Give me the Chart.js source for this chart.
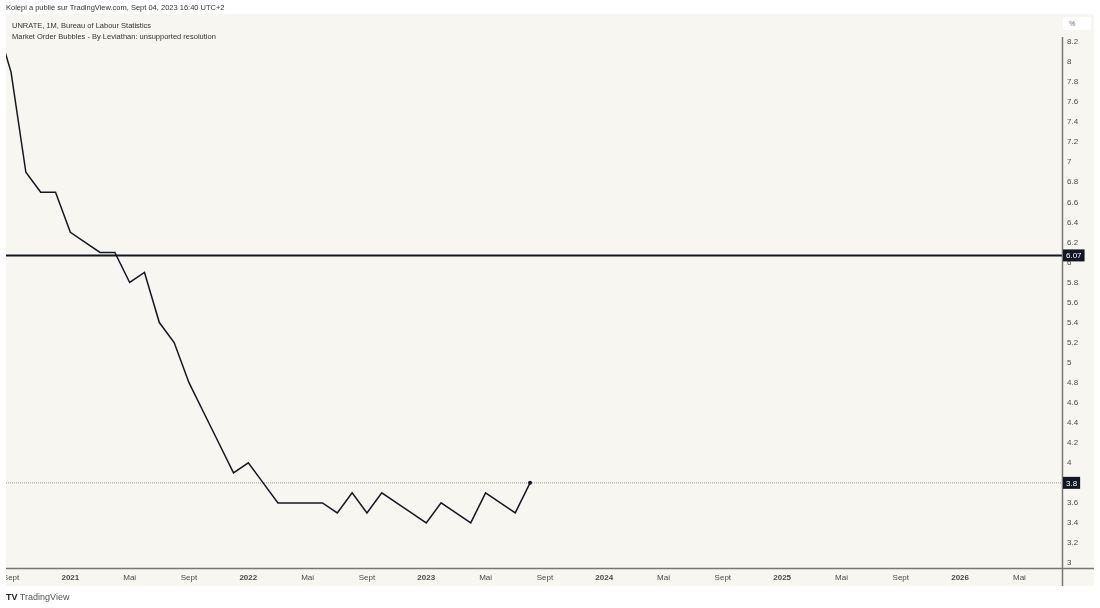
<!DOCTYPE html>
<html>
<head>
<meta charset="utf-8">
<script src="https://cdn.jsdelivr.net/npm/chart.js@4.4.0/dist/chart.umd.min.js"></script>
<style>
  body { margin: 0; background: #fff; font-family: "Liberation Sans", Arial, sans-serif; }
  #wrap { position: absolute; left: 0; top: 0; width: 1100px; height: 608px; }
  .txt { position: absolute; white-space: nowrap; color: #333; font-size: 7.5px; }
  #pct { position: absolute; left: 1063px; top: 17px; width: 28px; height: 13px; background: #fff;
         border-radius: 2px; font-size: 7px; color: #666; line-height: 13px; text-indent: 6px; }
</style>
</head>
<body>
<div id="wrap"><canvas id="myChart"></canvas></div>
<div class="txt" style="left:6px; top:3px;">Kolepi a publié sur TradingView.com, Sept 04, 2023 16:40 UTC+2</div>
<div class="txt" style="left:12px; top:21px;">UNRATE, 1M, Bureau of Labour Statistics</div>
<div class="txt" style="left:12px; top:32px;">Market Order Bubbles - By Leviathan: unsupported resolution</div>
<div id="pct">%</div>
<div class="txt" style="left:6px; top:592px; font-size:9px; color:#555;"><b style="color:#222;">TV</b> TradingView</div>
<script>
// monthly unemployment rate, Aug 2020 .. Aug 2023 (month index 0 = Sept 2020)
var firstIndex = -1;
var unrate = [8.4, 7.9, 6.9, 6.7, 6.7,
  6.3, 6.2, 6.1, 6.1, 5.8, 5.9, 5.4, 5.2, 4.8, 4.5, 4.2, 3.9,
  4.0, 3.8, 3.6, 3.6, 3.6, 3.6, 3.5, 3.7, 3.5, 3.7, 3.6, 3.5,
  3.4, 3.6, 3.5, 3.4, 3.7, 3.6, 3.5, 3.8];
var levelLine = 6.07;
var xTickLabels = ['Sept', '2021', 'Mai', 'Sept', '2022', 'Mai', 'Sept', '2023', 'Mai', 'Sept',
  '2024', 'Mai', 'Sept', '2025', 'Mai', 'Sept', '2026', 'Mai'];
var yTicks = [3, 3.2, 3.4, 3.6, 3.8, 4, 4.2, 4.4, 4.6, 4.8, 5, 5.2, 5.4, 5.6, 5.8, 6,
  6.2, 6.4, 6.6, 6.8, 7, 7.2, 7.4, 7.6, 7.8, 8, 8.2];

var xMin = -0.34, xMax = 70.87;
var lastValue = unrate[unrate.length - 1];
var seriesPts = unrate.map(function (v, i) { return { x: firstIndex + i, y: v }; });

var frame = {
  id: 'frame',
  beforeDraw: function (chart) {
    var c = chart.ctx;
    c.save();
    c.fillStyle = '#f7f6f1';
    c.fillRect(6, 14, 1088, 572);
    c.restore();
  },
  afterDraw: function (chart) {
    var c = chart.ctx, a = chart.chartArea, y = chart.scales.y;
    c.save();
    c.fillStyle = '#fff';
    c.fillRect(0, a.bottom, 6, 30);
    c.strokeStyle = '#777';
    c.lineWidth = 1.5;
    c.beginPath();
    c.moveTo(6, a.bottom + 0.5); c.lineTo(1094, a.bottom + 0.5);
    c.moveTo(a.right + 0.5, 37); c.lineTo(a.right + 0.5, 586);
    c.stroke();
    c.font = '8px "Liberation Sans", Arial, sans-serif';
    c.textBaseline = 'middle';
    [[levelLine, '6.07'], [lastValue, '3.8']].forEach(function (p) {
      var py = y.getPixelForValue(p[0]);
      var w = c.measureText(p[1]).width + 6;
      c.fillStyle = '#131722';
      c.fillRect(a.right + 1, py - 6, w, 12);
      c.fillStyle = '#fff';
      c.fillText(p[1], a.right + 4, py + 0.5);
    });
    c.restore();
  }
};

new Chart(document.getElementById('myChart'), {
  type: 'line',
  data: {
    datasets: [
      {
        data: seriesPts,
        borderColor: '#131722',
        borderWidth: 1.5,
        pointRadius: function (ctx) { return ctx.dataIndex === unrate.length - 1 ? 2 : 0; },
        pointBackgroundColor: '#131722',
        pointBorderWidth: 0,
        tension: 0
      },
      {
        data: [{ x: xMin, y: levelLine }, { x: xMax, y: levelLine }],
        borderColor: '#131722',
        borderWidth: 2,
        pointRadius: 0
      },
      {
        data: [{ x: xMin, y: lastValue }, { x: xMax, y: lastValue }],
        borderColor: '#9a9a9a',
        borderWidth: 1,
        borderDash: [1, 1],
        pointRadius: 0
      }
    ]
  },
  options: {
    responsive: true,
    maintainAspectRatio: false,
    animation: false,
    layout: { padding: { left: 6, right: 6, top: 35, bottom: 22 } },
    plugins: { legend: { display: false }, tooltip: { enabled: false } },
    scales: {
      x: {
        type: 'linear',
        min: xMin,
        max: xMax,
        grid: { display: false, drawTicks: false },
        border: { display: false },
        afterBuildTicks: function (s) {
          s.ticks = xTickLabels.map(function (l, i) { return { value: i * 4 }; });
        },
        afterFit: function (s) { s.height = 18; s.paddingLeft = 0; s.paddingRight = 0; },
        ticks: {
          autoSkip: false,
          maxRotation: 0,
          padding: 5,
          color: '#4a4a4a',
          font: function (ctx) {
            var l = ctx.tick ? xTickLabels[Math.round(ctx.tick.value / 4)] : '';
            return { size: 8, family: '"Liberation Sans", Arial, sans-serif', weight: /^\d/.test(l) ? 'bold' : 'normal' };
          },
          callback: function (v) { return xTickLabels[Math.round(v / 4)]; }
        }
      },
      y: {
        position: 'right',
        min: 2.95,
        max: 8.27,
        grid: { display: false, drawTicks: false },
        border: { display: false },
        afterBuildTicks: function (s) {
          s.ticks = yTicks.map(function (v) { return { value: v }; });
        },
        afterFit: function (s) { s.width = 32; s.paddingTop = 0; s.paddingBottom = 0; },
        ticks: {
          padding: 5,
          color: '#4a4a4a',
          font: { size: 8, family: '"Liberation Sans", Arial, sans-serif' },
          callback: function (v) { return String(Math.round(v * 10) / 10); }
        }
      }
    }
  },
  plugins: [frame]
});
</script>
</body>
</html>
